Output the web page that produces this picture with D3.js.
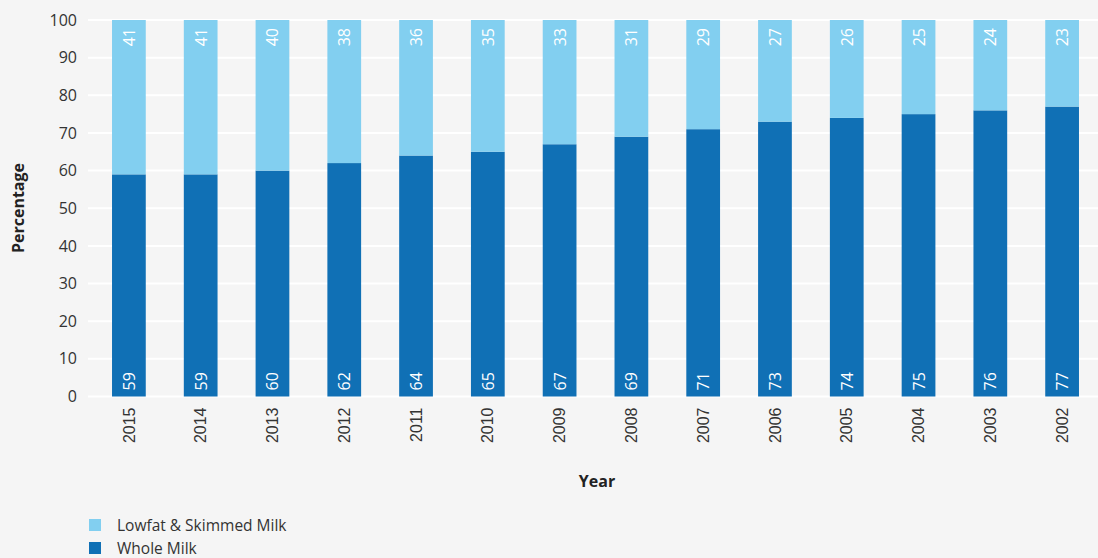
<!DOCTYPE html>
<html>
<head>
<meta charset="utf-8">
<script src="https://cdn.jsdelivr.net/npm/d3@7"></script>
<style>
  html, body { margin: 0; padding: 0; background: #f5f5f5; }
  svg { display: block; font-family: "Open Sans", "Noto Sans", sans-serif; }
</style>
</head>
<body>
<svg id="chart" width="1098" height="558"></svg>
<script>
const years = ["2015","2014","2013","2012","2011","2010","2009","2008","2007","2006","2005","2004","2003","2002"];
const wholeMilk = [59,59,60,62,64,65,67,69,71,73,74,75,76,77];
const lowfatMilk = [41,41,40,38,36,35,33,31,29,27,26,25,24,23];
const yTicks = [0,10,20,30,40,50,60,70,80,90,100];
const seriesNames = ["Lowfat & Skimmed Milk", "Whole Milk"];
const seriesColors = ["#82cff0", "#1070b5"];

const svg = d3.select("#chart");
const W = 1098, H = 558;
const plot = { left: 93, right: 1098, top: 20, bottom: 396.5 };

svg.append("rect").attr("width", W).attr("height", H).attr("fill", "#f5f5f5");

const x = d3.scaleBand().domain(years).range([plot.left, plot.right]).paddingInner(0.53).paddingOuter(0.265);
const y = d3.scaleLinear().domain([0, 100]).range([plot.bottom, plot.top]);

// gridlines
svg.append("g").selectAll("line").data(yTicks).join("line")
  .attr("x1", 88).attr("x2", W)
  .attr("y1", d => y(d)).attr("y2", d => y(d))
  .attr("stroke", "#ffffff").attr("stroke-width", 2);

// y axis labels
const yAxis = d3.axisLeft(y).tickValues(yTicks).tickSize(0).tickPadding(0);
const yg = svg.append("g").attr("transform", "translate(77,0)").call(yAxis);
yg.select(".domain").remove();
yg.selectAll("text").attr("font-size", 16).attr("fill", "#333").attr("font-family", "'Open Sans', sans-serif");

// stacked bars
const rows = years.map((yr, i) => ({ year: yr, whole: wholeMilk[i], lowfat: lowfatMilk[i] }));
const stack = d3.stack().keys(["whole", "lowfat"])(rows);
const colorFor = { whole: seriesColors[1], lowfat: seriesColors[0] };

svg.append("g").selectAll("g").data(stack).join("g")
  .attr("fill", s => colorFor[s.key])
  .selectAll("rect").data(s => s).join("rect")
  .attr("x", d => x(d.data.year))
  .attr("width", x.bandwidth())
  .attr("y", d => y(d[1]))
  .attr("height", d => y(d[0]) - y(d[1]));

// value labels (rotated): lowfat at the top of its segment, whole milk at the base
const lbl = svg.append("g").attr("fill", "#fff").attr("font-size", 16);
rows.forEach(r => {
  const cx = x(r.year) + x.bandwidth() / 2 + 6;
  lbl.append("text")
    .attr("transform", `translate(${cx},${y(r.whole + r.lowfat) + 8}) rotate(-90)`)
    .attr("text-anchor", "end").text(r.lowfat);
  lbl.append("text")
    .attr("transform", `translate(${cx},${y(0) - 6}) rotate(-90)`)
    .attr("text-anchor", "start").text(r.whole);
});

// x axis labels
const xAxis = d3.axisBottom(x).tickSize(0).tickPadding(0);
const xg = svg.append("g").attr("transform", `translate(0,${plot.bottom})`).call(xAxis);
xg.select(".domain").remove();
xg.selectAll("text")
  .attr("font-size", 16).attr("fill", "#333")
  .attr("transform", "rotate(-90)")
  .attr("text-anchor", "end")
  .attr("x", -11).attr("y", 0).attr("dy", "0.35em");

// axis titles
svg.append("text").attr("x", 597).attr("y", 487).attr("text-anchor", "middle")
  .attr("font-size", 16).attr("font-weight", "bold").attr("fill", "#222").text("Year");
svg.append("text").attr("transform", "translate(24,208) rotate(-90)").attr("text-anchor", "middle")
  .attr("font-size", 16).attr("font-weight", "bold").attr("fill", "#222").text("Percentage");

// legend
const leg = svg.append("g");
seriesNames.forEach((n, i) => {
  const yy = 519 + i * 23;
  leg.append("rect").attr("x", 89).attr("y", yy).attr("width", 12).attr("height", 12).attr("fill", seriesColors[i]);
  leg.append("text").attr("x", 117).attr("y", yy + 12).attr("font-size", 15.5).attr("fill", "#333").text(n);
});
</script>
</body>
</html>
